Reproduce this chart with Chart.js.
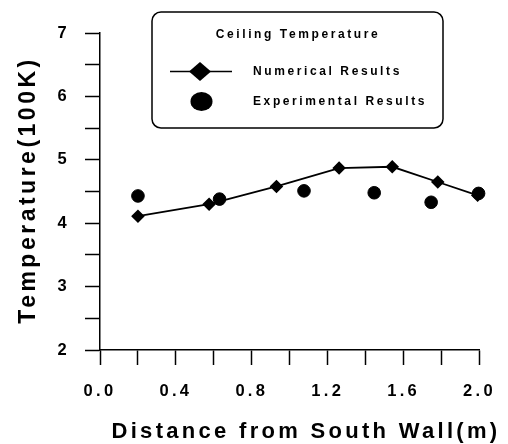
<!DOCTYPE html>
<html>
<head>
<meta charset="utf-8">
<script src="https://cdn.jsdelivr.net/npm/chart.js@4.4.1/dist/chart.umd.min.js"></script>
<style>
  html, body { margin: 0; padding: 0; background: #ffffff; }
  #wrap { width: 508px; height: 444px; position: relative; }
</style>
</head>
<body>
<div id="wrap"><canvas id="c" width="508" height="444"></canvas></div>
<script>
// ---- data ----
const numericalX = [0.20, 0.575, 0.93, 1.26, 1.54, 1.78, 1.99];
const numericalY = [4.11, 4.30, 4.58, 4.87, 4.89, 4.65, 4.44];
const experimentalX = [0.20, 0.63, 1.075, 1.445, 1.745, 1.995];
const experimentalY = [4.43, 4.38, 4.51, 4.48, 4.33, 4.47];
const seriesNames = ['Numerical Results', 'Experimental Results'];
const legendTitle = 'Ceiling Temperature';
const xTitle = 'Distance from South Wall(m)';
const yTitle = 'Temperature(100K)';
const xRange = [0, 2];
const yRange = [2, 7];

const FONT = '"Liberation Sans", Arial, sans-serif';

function pts(xs, ys) { return xs.map((x, i) => ({ x: x, y: ys[i] })); }

const decorPlugin = {
  id: 'decor',
  beforeDraw(chart) {
    chart.ctx.letterSpacing = '3.3px';
  },
  afterDraw(chart) {
    const ctx = chart.ctx;
    ctx.save();
    ctx.fillStyle = '#000';
    ctx.strokeStyle = '#000';
    // axis titles
    ctx.letterSpacing = '3.3px';
    ctx.font = 'bold 22px ' + FONT;
    ctx.textAlign = 'center';
    ctx.textBaseline = 'middle';
    ctx.fillText(xTitle, 306, 432);
    ctx.save();
    ctx.translate(29, 190);
    ctx.rotate(-Math.PI / 2);
    ctx.letterSpacing = '3.5px';
    ctx.font = 'bold 23px ' + FONT;
    ctx.fillText(yTitle, 0, 0);
    ctx.restore();

    // legend box
    const bx = 152, by = 12, bw = 291, bh = 116, r = 9;
    ctx.lineWidth = 1.5;
    ctx.beginPath();
    ctx.roundRect(bx, by, bw, bh, r);
    ctx.fillStyle = '#fff';
    ctx.fill();
    ctx.stroke();
    ctx.fillStyle = '#000';
    ctx.letterSpacing = '2.6px';
    ctx.font = 'bold 12px ' + FONT;
    ctx.textAlign = 'center';
    ctx.fillText(legendTitle, 298, 35);
    ctx.textAlign = 'left';
    ctx.fillText(seriesNames[0], 253, 71.5);
    ctx.fillText(seriesNames[1], 253, 102);
    // numerical symbol
    ctx.lineWidth = 1.5;
    ctx.beginPath();
    ctx.moveTo(170, 71.5);
    ctx.lineTo(232, 71.5);
    ctx.stroke();
    ctx.beginPath();
    ctx.moveTo(200, 62);
    ctx.lineTo(211, 71.5);
    ctx.lineTo(200, 81);
    ctx.lineTo(189, 71.5);
    ctx.closePath();
    ctx.fill();
    // experimental symbol
    ctx.beginPath();
    ctx.ellipse(201.5, 101.5, 11, 9.5, 0, 0, Math.PI * 2);
    ctx.fill();
    ctx.restore();
  }
};

const chart = new Chart(document.getElementById('c'), {
  type: 'scatter',
  data: {
    datasets: [
      {
        label: seriesNames[0],
        data: pts(numericalX, numericalY),
        showLine: true,
        borderColor: '#000',
        borderWidth: 1.8,
        backgroundColor: '#000',
        pointStyle: 'rectRot',
        pointRadius: 5.5,
        pointHoverRadius: 5.5,
        clip: false
      },
      {
        label: seriesNames[1],
        data: pts(experimentalX, experimentalY),
        showLine: false,
        borderColor: '#000',
        backgroundColor: '#000',
        pointStyle: 'circle',
        pointRadius: 6.3,
        pointHoverRadius: 6.3,
        clip: false
      }
    ]
  },
  options: {
    responsive: false,
    animation: false,
    events: [],
    layout: { padding: { top: 33, right: 21, left: 0, bottom: 0 } },
    plugins: {
      legend: { display: false },
      tooltip: { enabled: false },
      title: { display: false }
    },
    scales: {
      x: {
        type: 'linear',
        min: xRange[0],
        max: xRange[1],
        afterFit(s) { s.height = 94; },
        border: { display: true, color: '#000', width: 1.5 },
        grid: { drawOnChartArea: false, drawTicks: true, tickLength: 15, tickColor: '#000', tickWidth: 1.5 },
        ticks: {
          stepSize: 0.2,
          autoSkip: false,
          maxRotation: 0,
          padding: 17,
          color: '#000',
          font: { family: FONT, size: 16.5, weight: 'bold' },
          callback(v) {
            const q = v / 0.4;
            return Math.abs(q - Math.round(q)) < 1e-6 ? Number(v).toFixed(1) : '';
          }
        }
      },
      y: {
        type: 'linear',
        min: yRange[0],
        max: yRange[1],
        afterFit(s) { s.width = 100; },
        border: { display: true, color: '#000', width: 1.5 },
        grid: { drawOnChartArea: false, drawTicks: true, tickLength: 15, tickColor: '#000', tickWidth: 1.5 },
        ticks: {
          stepSize: 0.5,
          autoSkip: false,
          padding: 15,
          color: '#000',
          font: { family: FONT, size: 16.5, weight: 'bold' },
          callback(v) {
            return Math.abs(v - Math.round(v)) < 1e-6 ? String(Math.round(v)) : '';
          }
        }
      }
    }
  },
  plugins: [decorPlugin]
});
</script>
</body>
</html>
